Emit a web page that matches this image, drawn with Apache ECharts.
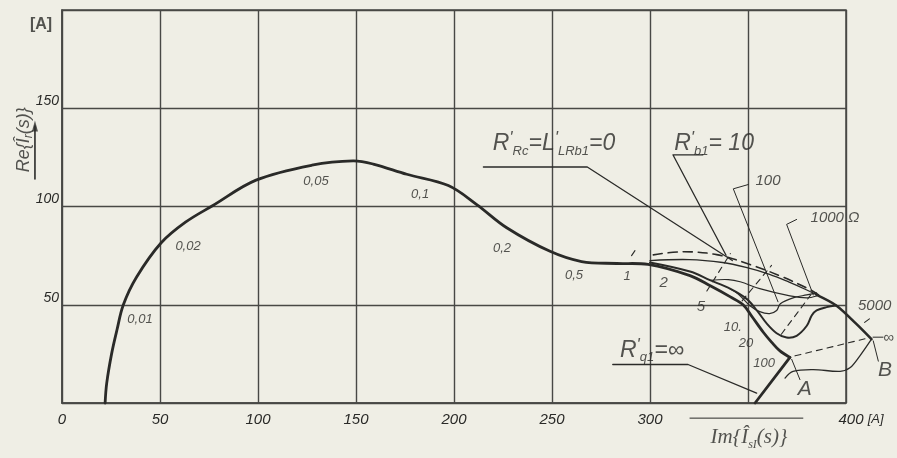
<!DOCTYPE html>
<html><head><meta charset="utf-8">
<script src="https://cdn.jsdelivr.net/npm/echarts@6/dist/echarts.min.js"></script>
<style>html,body{margin:0;padding:0;background:#efeee5;}#c{width:897px;height:458px;}</style>
</head><body><div id="c"></div>
<script>
// ---- data ----
const xTicks = [0, 50, 100, 150, 200, 250, 300, 350, 400];
const yTicks = [0, 50, 100, 150, 200];
const mainCurve = [[22,0],[22.8,10],[25.3,25],[28,37],[31.3,50],[38,64],[50.5,81.4],[63,92],[77,100.5],[99,113.4],[127.5,121],[148.5,123.2],[158.8,121.6],[175.9,116.4],[197.1,110.7],[211.6,101],[226.9,89.2],[249,77.2],[265.1,72],[283,71],[299,70.5],[320.4,64.8],[331,59.5],[341,54],[347.5,50],[352,44],[357.8,36],[362,31],[366.3,26.5],[371.4,23.2]];
const baseLineA = [[353.6,0],[371.4,23.2]];
const curveMedium = [[300,71.5],[320.4,66.9],[330.6,62.5],[340.8,58.2],[349.3,53],[355,46.5],[359.5,40.5],[364.6,35.5],[369.7,33.3],[374.8,34.2],[380,39.3],[382.5,44.5],[385,47.1],[390.1,48.8],[395,49.6]];
const curveRb10 = [[300,72.5],[320,73],[337,71.5],[349,69],[361,65.5],[371,61.5],[380,57.5],[385,55]];
const curveDashedTop = [[301.7,75.4],[317,77],[334,75.5],[351,70.5],[368,64],[382,57.5],[386,55]];
const curveDip = [[341,58],[345,55.5],[351,49.5],[356,46.5],[361,45.5],[364.6,47.1],[366.5,50.5],[373,53.5],[380,55],[385,56]];
const curveFlat = [[331,62.5],[340,62.8],[346,61.7],[356,58.2],[371.4,54.5],[380,53.5],[385,54.5]];
const lineToB = [[385,55],[395,49.6],[405,40.5],[413,32.5]];
const curveAB = [[368.9,12.7],[373,16.1],[383.3,17],[397,16.1],[402,17.9],[407,23.9],[413,32.5]];
const slipLines = [
  [[329,57],[341,76]],
  [[347,52],[362,70]],
  [[367,35],[382,55]],
  [[374,24],[411,33]],
  [[290.6,75],[293,78.5]],
  [[409.5,41],[413.5,44]]
];
const leaders = [
  [[215,120.1],[268,120.1],[342,72.5]],
  [[327,126.3],[311.7,126.3],[338.8,75.2]],
  [[350.2,111.2],[342.5,109],[365.3,51.5]],
  [[374.8,93.4],[369.7,90.9],[383.3,55]],
  [[281,19.6],[319.4,19.6],[354.4,5]],
  [[372.3,22.2],[376.5,11.9]],
  [[413.9,31.6],[416.5,21.3]],
  [[413.8,33.5],[418.9,33.5]],
  [[320.4,-7.7],[378,-7.7]]
];
const underlines = [0, 1, 4];
// annotations: x, y, text, align
const labels = [
  [39.8,42.8,'{n|0,01}'],
  [64.3,79.9,'{n|0,02}'],
  [129.6,112.9,'{n|0,05}'],
  [182.7,106.2,'{n|0,1}'],
  [224.5,78.9,'{n|0,2}'],
  [261.2,64.9,'{n|0,5}'],
  [288.3,64.4,'{n|1}'],
  [307,61.3,'{k|2}'],
  [326,49,'{k|5}'],
  [342.3,38.7,'{n|10.}'],
  [349,30.4,'{n|20}'],
  [358.2,20.1,'{n|100}'],
  [379,7.2,'{L|A}'],
  [419.9,16.5,'{L|B}'],
  [406.1,49.6,'{k|5000}','left'],
  [419,33.2,'{k|∞}','left'],
  [394.4,94.3,'{k|1000 Ω}'],
  [360.2,112.9,'{k|100}'],
  [251,132,'{m|R}{p|\'}{s|Rc}{m|=L}{p|\'}{s|LRb1}{m|=0}'],
  [332.7,132,'{m|R}{p|\'}{s|b1}{m|= 10}'],
  [301,26.8,'{m|R}{p|\'}{s|q1}{m|=∞}'],
  [-10.7,192.5,'{A|[A]}']
];
const xTitle = [350.5,-17.5,'{t|Im\{Î}{ts|sI}{t|(s)}}'];
const yTitle = [-19.5,134,'{y|Re\{Î}{ys|r}{y|(s)}}'];
const yArrow = [[-13.8,114],[-13.8,141]];

// ---- chart ----
const C = '#2a2a28', G = '#484845';
const F = '"Liberation Sans", Arial, sans-serif';
const SF = '"Liberation Serif", serif';
const it = (size, extra) => Object.assign({fontSize:size, fontStyle:'italic', fontFamily:F, color:C}, extra||{});
const rich = {
  n: it(13),
  k: it(15),
  L: it(21),
  A: it(16, {fontWeight:'bold', fontStyle:'normal'}),
  m: it(23, {lineHeight:28}),
  p: it(17, {lineHeight:14, verticalAlign:'top'}),
  s: it(13, {lineHeight:14, verticalAlign:'bottom'}),
  t: {fontSize:21, fontStyle:'italic', fontFamily:SF, color:C, lineHeight:26},
  ts: {fontSize:12, fontStyle:'italic', fontFamily:SF, color:C, lineHeight:13, verticalAlign:'bottom'},
  y: it(18, {lineHeight:22}),
  ys: it(12, {lineHeight:11, verticalAlign:'bottom'})
};
// polyline drawn through the cartesian scales (api.coord), not clipped to the grid
function poly(data, width, opts) {
  opts = opts || {};
  return {
    type:'custom', coordinateSystem:'cartesian2d', clip:false, silent:true, z:3,
    data:[[data[0][0], data[0][1]]],
    renderItem: function (params, api) {
      return {type:'polyline', shape:{points:data.map(p => api.coord(p)), smooth:opts.smooth || 0},
        style:{stroke:C, lineWidth:width, fill:null, lineDash:opts.dash || null, lineCap:'round', lineJoin:'round'}};
    }
  };
}
const series = [];
series.push(poly(mainCurve, 2.8, {smooth:0.35}));
series.push(poly(baseLineA, 2.8));
series.push(poly(curveMedium, 2.0, {smooth:0.35}));
series.push(poly(curveRb10, 1.3, {smooth:0.35}));
series.push(poly(curveDashedTop, 1.6, {smooth:0.35, dash:[9,6]}));
series.push(poly(curveDip, 1.2, {smooth:0.35}));
series.push(poly(curveFlat, 1.1, {smooth:0.35}));
series.push(poly(lineToB, 2.6, {smooth:0.3}));
series.push(poly(curveAB, 1.3, {smooth:0.35}));
slipLines.forEach(d => series.push(poly(d, 1.1, {dash:[6,5]})));
leaders.forEach((d, i) => series.push(poly(d, underlines.indexOf(i) >= 0 ? 1.3 : 1.0)));
series.push(poly(yArrow, 1.6));
series.push({type:'scatter', data:[[yArrow[1][0], yArrow[1][1]]], symbol:'triangle', symbolSize:[6,11], clip:false, silent:true, itemStyle:{color:C}});
series.push({
  type:'scatter', symbolSize:0, clip:false, silent:true,
  data: labels.map(a => ({value:[a[0], a[1]], label:{formatter:a[2], align:a[3] || 'center'}})),
  label:{show:true, position:'inside', color:C, rich:rich}
});
series.push({
  type:'scatter', symbolSize:0, clip:false, silent:true,
  data:[{value:[xTitle[0], xTitle[1]], label:{formatter:xTitle[2]}}],
  label:{show:true, position:'inside', color:C, fontSize:21, fontStyle:'italic', fontFamily:SF, lineHeight:26, rich:rich}
});
series.push({
  type:'scatter', symbolSize:0, clip:false, silent:true,
  data:[{value:[yTitle[0], yTitle[1]], label:{formatter:yTitle[2]}}],
  label:{show:true, position:'inside', rotate:90, color:C, fontSize:18, fontStyle:'italic', fontFamily:F, lineHeight:22, rich:rich}
});

const chart = echarts.init(document.getElementById('c'), null, {renderer:'canvas'});
chart.setOption({
  backgroundColor:'#efeee5',
  animation:false,
  grid:{left:62, right:51, top:10, bottom:55, show:true, borderColor:G, borderWidth:1.5},
  xAxis:{type:'value', min:xTicks[0], max:xTicks[xTicks.length-1], interval:xTicks[1]-xTicks[0],
    axisLine:{show:true, lineStyle:{color:G, width:1.6}}, axisTick:{show:false},
    splitLine:{show:true, lineStyle:{color:G, width:1.4}},
    axisLabel:{margin:9, fontSize:15, fontStyle:'italic', fontFamily:F, color:C,
      formatter: v => v === 350 ? '' : (v === 400 ? '{r|400 }{q|[A]}' : String(v)),
      rich:{r:it(15,{padding:[0,0,0,30]}), q:it(13)}}},
  yAxis:{type:'value', min:yTicks[0], max:yTicks[yTicks.length-1], interval:yTicks[1]-yTicks[0],
    axisLine:{show:true, lineStyle:{color:G, width:1.6}}, axisTick:{show:false},
    splitLine:{show:true, lineStyle:{color:G, width:1.4}},
    axisLabel:{margin:3, fontSize:14, fontStyle:'italic', fontFamily:F, color:C, verticalAlign:'bottom',
      formatter: v => (v === yTicks[0] || v === yTicks[yTicks.length-1]) ? '' : String(v)}},
  series:series
});
</script></body></html>
